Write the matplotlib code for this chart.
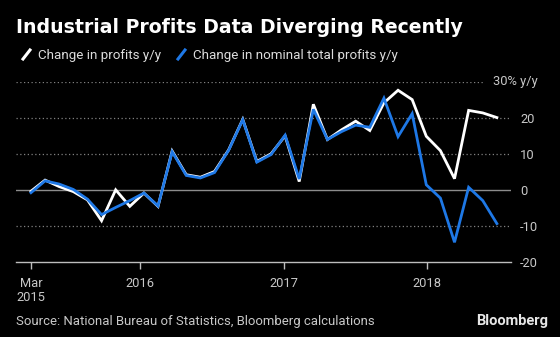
import numpy as np
import matplotlib
matplotlib.use("Agg")
import matplotlib.pyplot as plt
from matplotlib.lines import Line2D

plt.rcParams['font.family'] = ['Roboto', 'DejaVu Sans']

# monthly points, Mar 2015 .. Jun 2018 (Jan/Feb not shown)
profits = [-0.4, 2.7, 0.9, -0.5, -2.8, -8.6, 0.0, -4.6, -0.9, -4.6,
           10.8, 4.2, 3.5, 5.1, 11.1, 19.6, 7.9, 10.0, 15.0, 2.3,
           23.8, 14.0, 16.7, 19.1, 16.5, 24.2, 27.7, 25.1, 14.9, 10.9,
           3.1, 22.1, 21.4, 20.1]
nominal = [-0.8, 2.5, 1.6, 0.1, -2.6, -6.9, -4.9, -3.0, -0.9, -4.5,
           10.6, 4.0, 3.3, 4.8, 11.0, 19.5, 7.7, 9.8, 15.2, 3.0,
           22.4, 14.0, 16.2, 18.0, 17.4, 25.5, 14.8, 21.2, 1.4, -2.3,
           -14.6, 0.7, -3.0, -9.4]
xtick_pos = [0, 7.72, 17.92, 28.05]
xtick_labels = ['Mar\n2015', '2016', '2017', '2018']
yticks = [-20, -10, 0, 10, 20, 30]
ytick_labels = ['-20', '-10', '0', '10', '20', '']

x = np.arange(len(profits))
white = '#ffffff'
blue = '#1e78e6'
grey_txt = '#c8c8c8'

fig = plt.figure(figsize=(5.6, 3.37), dpi=100, facecolor='black')
ax = fig.add_axes([16/560, 1-261.7/337, 495/560, (261.7-82)/337])
ax.set_facecolor('black')

# grid
for v in yticks:
    if v == -20:
        continue
    if v == 0:
        ax.axhline(0, color='#8c8c8c', lw=1.0, zorder=1)
    else:
        xmax = (483-16)/495 if v == 30 else 1.0
        ax.axhline(v, xmax=xmax, color='#808080', lw=0.9, ls=(0, (1, 2)), zorder=1)

ax.plot(x, profits, color=white, lw=2.0, zorder=3, solid_joinstyle='miter')
ax.plot(x, nominal, color=blue, lw=2.0, zorder=4, solid_joinstyle='miter')

ax.set_xlim(-1.06, 34.0)
ax.set_ylim(-20, 30)

for s in ['top', 'left', 'right']:
    ax.spines[s].set_visible(False)
ax.spines['bottom'].set_color('#bdbdbd')
ax.spines['bottom'].set_linewidth(1.0)

ax.set_xticks(xtick_pos)
ax.set_xticklabels(xtick_labels, linespacing=1.15)
ax.tick_params(axis='x', colors='#bdbdbd', length=5, width=1, labelcolor=grey_txt,
               labelsize=9.3, pad=6)
for lab in ax.get_xticklabels():
    lab.set_horizontalalignment('center')

ax.yaxis.tick_right()
ax.set_yticks(yticks)
ax.set_yticklabels(ytick_labels)
ax.tick_params(axis='y', length=0, labelcolor=grey_txt, labelsize=9.3, pad=6.5)
ax.text((493-16)/495, 30, '30% y/y', transform=ax.get_yaxis_transform(),
        color=grey_txt, fontsize=9.3, va='center', ha='left')

# title and legend
fig.text(16/560, 1-33.3/337, 'Industrial Profits Data Diverging Recently',
         color='white', fontsize=13.6, fontweight='bold', va='baseline',
         family='DejaVu Sans')
fig.add_artist(Line2D([23/560, 30/560], [1-59/337, 1-50/337], color=white, lw=2.2))
fig.text(38.3/560, 1-59/337, 'Change in profits y/y', color='#dcdcdc',
         fontsize=9.6, va='baseline')
fig.add_artist(Line2D([178/560, 185/560], [1-59/337, 1-50/337], color=blue, lw=2.2))
fig.text(193/560, 1-59/337, 'Change in nominal total profits y/y', color='#dcdcdc',
         fontsize=9.6, va='baseline')

fig.text(16/560, 1-325.3/337, 'Source: National Bureau of Statistics, Bloomberg calculations',
         color=grey_txt, fontsize=9.45, va='baseline')
fig.text(548.5/560, 1-325.3/337, 'Bloomberg', color='#e6e6e6', fontsize=10.5,
         fontweight='bold', va='baseline', ha='right')

fig.savefig('out.png', dpi=100, facecolor='black')
